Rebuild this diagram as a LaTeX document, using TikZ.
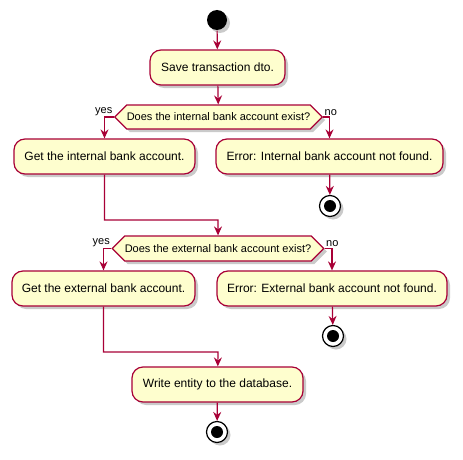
\documentclass[tikz,border=0pt]{standalone}
\usepackage{fontspec}
\setmainfont{Liberation Sans}
\usepackage{tikz}
\usetikzlibrary{arrows.meta,shapes.symbols,shadows}
\definecolor{umlline}{HTML}{A80036}
\definecolor{umlfill}{HTML}{FEFECE}

\begin{document}
\begin{tikzpicture}[x=1pt,y=-1pt,line width=1.2pt,
    shade/.style={drop shadow={shadow xshift=3pt,shadow yshift=-3pt,opacity=0.35,fill=black!60}},
    act/.style={draw=umlline,fill=umlfill,rounded corners=11pt,shade,
      minimum height=35,inner xsep=0pt,font=\fontsize{12}{14}\selectfont},
    test/.style={draw=umlline,fill=umlfill,signal,signal to=west and east,
      signal pointer angle=90,shade,minimum height=24,inner sep=0pt,
      font=\fontsize{11}{13}\selectfont},
    guard/.style={inner sep=1pt,font=\fontsize{11}{13}\selectfont},
    flow/.style={draw=umlline,-{Stealth[length=9pt,width=8pt,inset=3pt]}},
    start/.style={circle,fill=black,minimum size=20,inner sep=0pt,shade},
    stop/.style={circle,draw=black,fill=white,minimum size=21,inner sep=0pt,shade,
      path picture={\fill[black] (path picture bounding box.center) circle (6pt);}}]
  \useasboundingbox (0,0) rectangle (463,460);
  % start and the first action
  \node[start] (begin) at (217,20) {};
  \node[act,minimum width=135] (save) at (217.5,67.5) {Save transaction dto.};
  \node[test,minimum width=205] (q1) at (218.5,117) {Does the internal bank account exist?};
  \node[guard,anchor=south east] (y1) at (q1.west) {yes};
  \node[guard,anchor=south west] (n1) at (q1.east) {no};
  \node[act,minimum width=181] (getint) at (104.5,156.5) {Get the internal bank account.};
  \node[act,minimum width=227] (errint) at (329.5,156.5) {Error: Internal bank account not found.};
  \node[stop] (end1) at (330,206) {};
  \coordinate (merge1) at (218,220);
  % second test
  \node[test,minimum width=210,minimum height=25] (q2) at (218,248.5) {Does the external bank account exist?};
  \node[guard,anchor=south east] (y2) at (q2.west) {yes};
  \node[guard,anchor=south west] (n2) at (q2.east) {no};
  \node[act,minimum width=183] (getext) at (103.5,288.5) {Get the external bank account.};
  \node[act,minimum width=230] (errext) at (332,288.5) {Error: External bank account not found.};
  \node[stop] (end2) at (333,336) {};
  \coordinate (merge2) at (218,352);
  \node[act,minimum width=171] (write) at (217.5,384.5) {Write entity to the database.};
  \node[stop] (end3) at (217,432) {};

  \draw[flow] (begin) -- (save);
  \draw[flow] (save) -- (q1);
  \draw[flow] (q1.west) -| (getint);
  \draw[flow] (q1.east) -| (errint);
  \draw[flow] (errint) -- (end1);
  \draw[flow] (getint) |- (merge1) -- (q2);
  \draw[flow] (q2.west) -| (getext);
  \draw[flow] (q2.east) -| (errext);
  \draw[flow] (errext) -- (end2);
  \draw[flow] (getext) |- (merge2) -- (write);
  \draw[flow] (write) -- (end3);
\end{tikzpicture}
\end{document}
